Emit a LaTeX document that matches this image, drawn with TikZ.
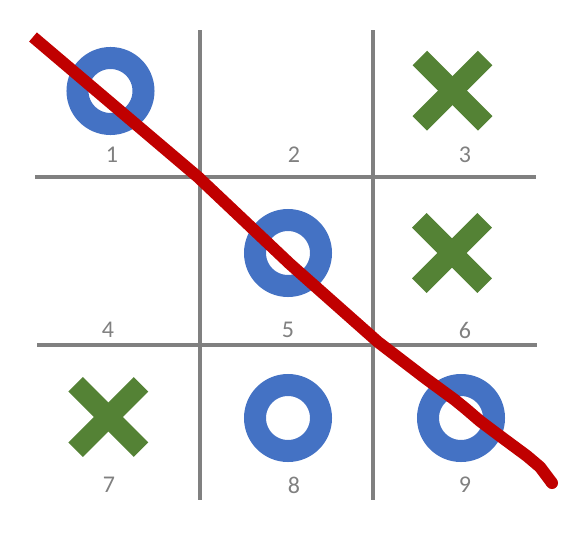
\documentclass[tikz,border=0pt]{standalone}
\usepackage{fontspec}
\setmainfont{Carlito}
\definecolor{oblue}{HTML}{4472C4}
\definecolor{xgreen}{HTML}{548235}
\definecolor{gridgray}{HTML}{808080}
\definecolor{winred}{HTML}{C00000}
\tikzset{
  gridline/.style={gridgray, line width=3.4pt},
  ring/.style={oblue, line width=16.5pt},
  cross/.style={xgreen, line width=15.4pt, line cap=butt},
  cellnum/.style={gridgray, inner sep=0pt, font=\fontsize{18}{20}\selectfont},
  winline/.style={winred, line width=9pt, line cap=butt, line join=round}
}
\newcommand\markx[1]{%
  \draw[cross] ($(#1)+(-32.7,-32.7)$) -- ($(#1)+(32.7,32.7)$);
  \draw[cross] ($(#1)+(-32.7,32.7)$) -- ($(#1)+(32.7,-32.7)$);}
\usetikzlibrary{calc}
\begin{document}
\begin{tikzpicture}[x=0.75pt, y=-0.75pt]
  \useasboundingbox (0,0) rectangle (586,539);
  \draw[gridline] (200,30) -- (200,500);
  \draw[gridline] (373,30) -- (373,500);
  \draw[gridline] (35,177) -- (536,177);
  \draw[gridline] (37,345) -- (537,345);

  \node[cellnum] (n1) at (112,155) {1};
  \node[cellnum] (n2) at (294,155) {2};
  \node[cellnum] (n3) at (465,155) {3};
  \node[cellnum] (n4) at (108,330) {4};
  \node[cellnum] (n5) at (288,330) {5};
  \node[cellnum] (n6) at (465,330) {6};
  \node[cellnum] (n7) at (109,485) {7};
  \node[cellnum] (n8) at (294,485) {8};
  \node[cellnum] (n9) at (465,485) {9};

  \draw[ring] (110.5,91) circle[radius=24.75pt];
  \draw[ring] (288,253) circle[radius=24.75pt];
  \draw[ring] (288,418) circle[radius=24.75pt];
  \draw[ring] (461,418) circle[radius=24.75pt];

  \coordinate (x3) at (452.5,90.7);
  \coordinate (x6) at (452,253);
  \coordinate (x7) at (108.3,417);
  \markx{x3}
  \markx{x6}
  \markx{x7}

  \coordinate (start) at (33,37);
  \coordinate (stop) at (552,483);
  \draw[winline] (start) -- (198,177) -- (290,264) -- (378,342) -- (425,378)
    -- (455,400) -- (466,409) -- (480,421) -- (500,436) -- (527,456)
    -- (540,467) -- (stop);
  \fill[winred] (stop) circle[radius=4.5pt];
\end{tikzpicture}
\end{document}
